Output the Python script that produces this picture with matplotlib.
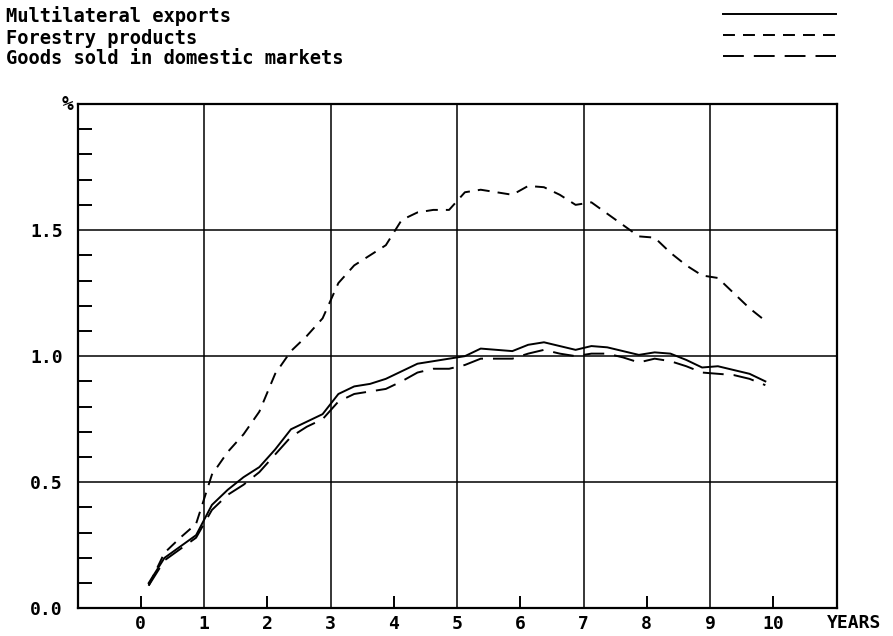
import matplotlib
matplotlib.use('Agg')
import matplotlib.pyplot as plt
from matplotlib.lines import Line2D
from matplotlib.ticker import FixedLocator

plt.rcParams['font.family'] = ['DejaVu Sans Mono']
plt.rcParams['font.weight'] = 'bold'
plt.rcParams['lines.scale_dashes'] = False

# quarterly observations (years)
years = [0.125, 0.375, 0.625, 0.875, 1.125, 1.375, 1.625, 1.875,
         2.125, 2.375, 2.625, 2.875, 3.125, 3.375, 3.625, 3.875,
         4.125, 4.375, 4.625, 4.875, 5.125, 5.375, 5.625, 5.875,
         6.125, 6.375, 6.625, 6.875, 7.125, 7.375, 7.625, 7.875,
         8.125, 8.375, 8.625, 8.875, 9.125, 9.375, 9.625, 9.875]

multilateral = [0.10, 0.20, 0.245, 0.29, 0.41, 0.47, 0.52, 0.56,
                0.63, 0.71, 0.74, 0.77, 0.85, 0.88, 0.89, 0.91,
                0.94, 0.97, 0.98, 0.99, 1.00, 1.03, 1.025, 1.02,
                1.045, 1.055, 1.04, 1.025, 1.04, 1.035, 1.02, 1.005,
                1.015, 1.01, 0.985, 0.955, 0.96, 0.945, 0.93, 0.90]

forestry = [0.09, 0.22, 0.28, 0.335, 0.53, 0.62, 0.69, 0.78,
            0.93, 1.02, 1.08, 1.15, 1.29, 1.36, 1.40, 1.44,
            1.54, 1.57, 1.58, 1.58, 1.65, 1.66, 1.65, 1.64,
            1.675, 1.67, 1.64, 1.60, 1.61, 1.565, 1.52, 1.475,
            1.47, 1.41, 1.36, 1.32, 1.31, 1.25, 1.19, 1.14]

domestic = [0.09, 0.19, 0.235, 0.28, 0.39, 0.45, 0.49, 0.54,
            0.61, 0.68, 0.72, 0.75, 0.82, 0.85, 0.86, 0.87,
            0.90, 0.935, 0.95, 0.95, 0.965, 0.99, 0.99, 0.99,
            1.01, 1.025, 1.01, 1.00, 1.01, 1.01, 0.995, 0.975,
            0.99, 0.98, 0.96, 0.935, 0.93, 0.925, 0.91, 0.885]

labels = ['Multilateral exports', 'Forestry products', 'Goods sold in domestic markets']
dash_styles = [None, (8.6, 5.8), (15, 7.2)]

W, H = 893, 636
fig = plt.figure(figsize=(W / 100, H / 100), dpi=100)
ax = fig.add_axes([77.5 / W, (H - 608.3) / H, 759 / W, 504.3 / H])

series = [multilateral, forestry, domestic]
for vals, ds in zip(series, dash_styles):
    line, = ax.plot(years, vals, color='black', lw=1.4)
    if ds is not None:
        line.set_dashes(ds)

ax.set_xlim(-1, 11)
ax.set_ylim(0, 2.0)

# grid: odd years, every 0.5 %
for gx in [1, 3, 5, 7, 9]:
    ax.axvline(gx, color='black', lw=1.1, zorder=0)
for gy in [0.5, 1.0, 1.5]:
    ax.axhline(gy, color='black', lw=1.1, zorder=0)

ax.set_xticks(range(0, 11))
ax.set_xticklabels([str(i) for i in range(0, 11)])
ax.xaxis.set_minor_locator(FixedLocator([0, 2, 4, 6, 8, 10]))
ax.xaxis.remove_overlapping_locs = False
ax.set_yticks([0.0, 0.5, 1.0, 1.5])
ax.set_yticklabels(['0.0', '0.5', '1.0', '1.5'])
ax.yaxis.set_minor_locator(FixedLocator([v / 10 for v in range(1, 20) if v % 5 != 0]))

ax.tick_params(axis='x', which='major', length=0, pad=5, labelsize=13)
ax.tick_params(axis='y', which='major', length=0, pad=10.5, labelsize=13)
ax.tick_params(axis='x', which='minor', direction='in', length=8.6, width=1.4)
ax.tick_params(axis='y', which='minor', direction='in', length=10, width=1.4)
for sp in ax.spines.values():
    sp.set_linewidth(1.6)

fig.text(68 / W, 1 - 105 / H, '%', ha='center', va='center', fontsize=14)
fig.text(854 / W, 1 - 623.5 / H, 'YEARS', ha='center', va='center', fontsize=13)

# legend block at the top
baselines = [22.5, 43.5, 64.5]
mids = [14, 35, 56]
for lab, ds, b, m in zip(labels, dash_styles, baselines, mids):
    fig.text(6 / W, 1 - b / H, lab, ha='left', va='baseline', fontsize=13.5)
    ln = Line2D([723 / W, 836 / W], [1 - m / H, 1 - m / H], color='black', lw=1.4,
                transform=fig.transFigure)
    if ds is not None:
        ln.set_dashes(ds)
    fig.add_artist(ln)

fig.savefig('out.png', dpi=100)
